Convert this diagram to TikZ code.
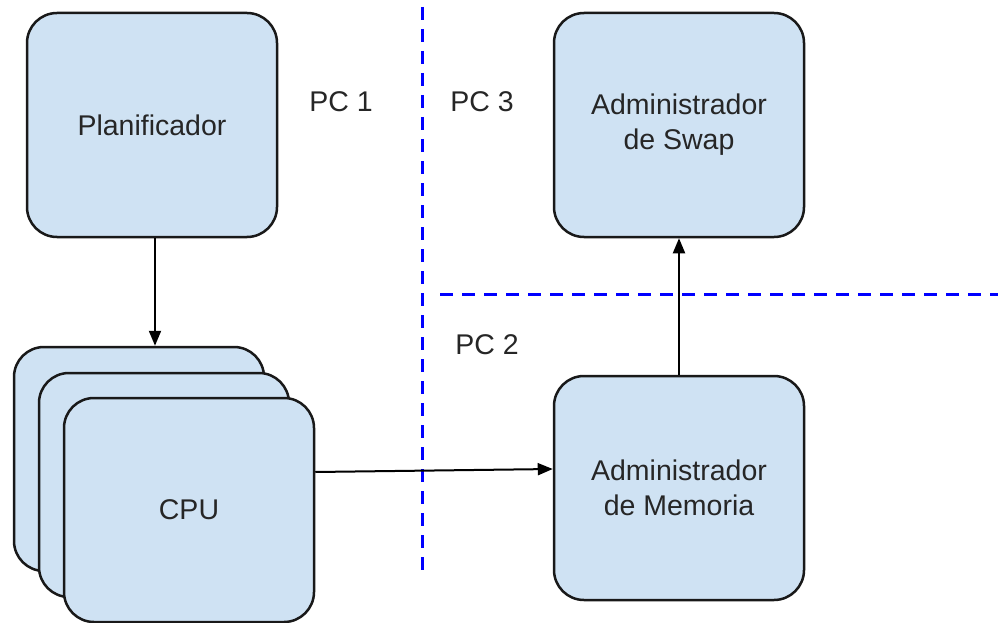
\documentclass[tikz,border=0pt]{standalone}
\usepackage{fontspec}
\setmainfont{Liberation Sans}
\usetikzlibrary{arrows.meta}
\definecolor{boxfill}{HTML}{CFE2F3}

\begin{document}
\begin{tikzpicture}[x=1pt, y=-1pt,
      every node/.style={align=center, text=black!85, font=\fontsize{28.5}{35}\selectfont},
      box/.style={shape=rectangle, draw=black!90, fill=boxfill, line width=2.5pt,
        rounded corners=30pt, minimum width=250pt, minimum height=224pt, inner sep=0pt},
      link/.style={line width=2pt, -{Triangle[length=15pt,width=12pt]}},
      border/.style={blue, line width=3pt, dash pattern=on 13pt off 9pt}]
  \useasboundingbox (0,0) rectangle (998,623);
  \draw[border] (422,7) -- (422,572);
  \draw[border] (440,294) -- (998,294);
  \node (pc1) at (341,102) {PC 1};
  \node (pc3) at (482,102) {PC 3};
  \node (pc2) at (487,345) {PC 2};
  \node[box] (plan) at (152,125) {Planificador};
  \node[box] (swap) at (679,125) {Administrador\\de Swap};
  \node[box] (mem) at (679,488) {Administrador\\de Memoria};
  \node[box] (cpu1) at (139,459) {};
  \node[box] (cpu2) at (164,485) {};
  \node[box] (cpu3) at (189,510) {CPU};
  \draw[link] ([xshift=3pt]plan.south) -- ([xshift=3pt]plan.south |- cpu1.north);
  \draw[link] ([yshift=38pt]cpu3.east) -- ([yshift=19pt]mem.west);
  \draw[link] (mem.north) -- (swap.south);
\end{tikzpicture}
\end{document}
